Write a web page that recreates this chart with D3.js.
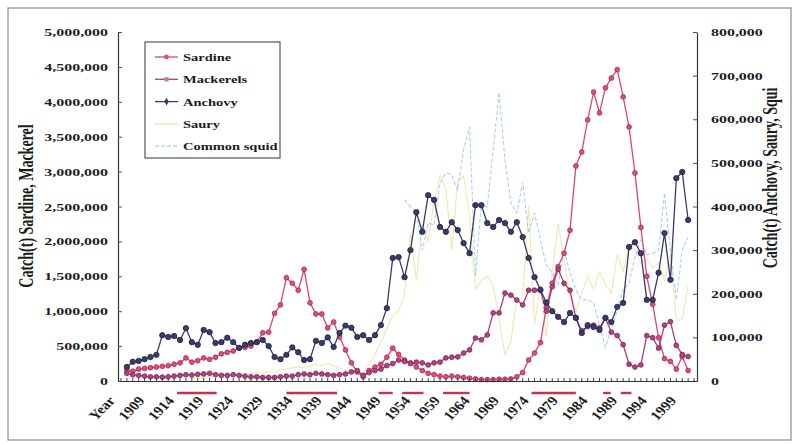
<!DOCTYPE html>
<html><head><meta charset="utf-8">
<script src="https://cdn.jsdelivr.net/npm/d3@7"></script>
<style>
html,body{margin:0;padding:0;background:#fff;}
svg{display:block;}
text{font-family:"Liberation Serif","Times New Roman",serif;font-weight:bold;fill:#1c1c1c;}
</style></head><body>
<svg id="chart" width="794" height="444"></svg>
<script>
// Category axis: a "Year" header cell followed by one category per year
const firstYear = 1905, lastYear = 2001;
const categories = ["Year"].concat(d3.range(firstYear, lastYear + 1).map(String));
const xLabels = ["Year","1909","1914","1919","1924","1929","1934","1939","1944","1949",
  "1954","1959","1964","1969","1974","1979","1984","1989","1994","1999"];
const leftTicks = [0,500000,1000000,1500000,2000000,2500000,3000000,3500000,4000000,4500000,5000000];
const rightTicks = [0,100000,200000,300000,400000,500000,600000,700000,800000];

// Catch (t), 1905-2000
const sardine = [150000,140000,170000,180000,190000,200000,210000,220000,240000,260000,
  330000,270000,290000,330000,310000,340000,390000,410000,430000,470000,
  480000,500000,560000,690000,700000,970000,1090000,1480000,1400000,1300000,
  1600000,1120000,960000,960000,760000,845000,630000,445000,260000,130000,
  60000,150000,200000,240000,340000,470000,380000,300000,260000,200000,
  150000,110000,90000,70000,60000,70000,60000,50000,40000,30000,
  20000,20000,20000,25000,25000,30000,60000,120000,300000,400000,
  550000,1050000,1400000,1640000,1830000,2160000,3080000,3280000,3740000,4140000,
  3840000,4200000,4340000,4460000,4070000,3640000,2980000,2200000,1500000,1100000,
  620000,320000,280000,170000,350000,150000];
const mackerels = [110000,90000,80000,70000,60000,60000,55000,60000,70000,80000,
  90000,85000,95000,100000,110000,90000,80000,80000,90000,80000,
  70000,60000,60000,50000,50000,50000,60000,70000,70000,90000,
  100000,90000,110000,100000,90000,80000,90000,100000,130000,150000,
  80000,120000,150000,170000,220000,250000,300000,280000,250000,270000,
  260000,230000,260000,270000,330000,340000,345000,400000,445000,615000,
  590000,660000,975000,975000,1260000,1230000,1160000,1090000,1300000,1300000,
  1300000,1000000,1350000,1600000,1400000,1300000,900000,720000,780000,800000,
  760000,900000,700000,650000,520000,240000,200000,230000,650000,620000,
  470000,800000,850000,510000,380000,350000];
const anchovy = [32000,44000,46000,50000,55000,60000,105000,101000,103000,94000,
  121000,89000,83000,117000,112000,87000,89000,99000,89000,76000,
  83000,87000,89000,94000,80000,55000,50000,60000,77000,66000,
  48000,50000,92000,87000,100000,78000,110000,127000,122000,101000,
  105000,94000,105000,128000,167000,282000,284000,238000,300000,387000,
  342000,426000,415000,353000,342000,364000,346000,316000,293000,403000,
  403000,362000,353000,369000,362000,342000,364000,330000,282000,238000,
  209000,180000,160000,147000,135000,156000,145000,110000,128000,124000,
  117000,145000,135000,170000,179000,307000,318000,293000,186000,186000,
  248000,339000,232000,465000,479000,369000];
const saury = [10000,8000,12000,15000,10000,8000,6000,8000,10000,12000,
  10000,8000,6000,8000,10000,12000,10000,8000,10000,12000,
  15000,18000,20000,18000,22000,20000,25000,28000,30000,32000,
  30000,35000,38000,36000,40000,35000,30000,25000,20000,15000,
  20000,40000,60000,90000,120000,150000,160000,200000,340000,230000,
  360000,320000,410000,470000,440000,300000,460000,470000,380000,210000,
  230000,240000,220000,140000,60000,90000,190000,190000,400000,130000,
  220000,100000,250000,360000,280000,190000,160000,200000,240000,210000,
  250000,220000,200000,290000,250000,310000,300000,270000,280000,260000,
  270000,230000,290000,140000,140000,220000];
// Common squid is recorded from 1952 onwards
const squidStart = 1952;
const commonSquid = [415000,399000,387000,300000,362000,358000,454000,477000,472000,438000,
  530000,582000,240000,408000,399000,530000,662000,506000,408000,385000,
  454000,339000,385000,323000,266000,248000,220000,300000,248000,209000,
  186000,186000,179000,128000,78000,117000,163000,209000,225000,284000,
  323000,289000,293000,300000,431000,300000,186000,300000,330000];

// Periods marked beneath the year axis
const periods = [[1913.5,1920.2],[1932,1940.6],[1947.6,1950],[1951.6,1955.2],[1958.5,1963],
  [1973.5,1981],[1985.6,1986.9],[1988.6,1990.4]];

const svg = d3.select("#chart");
const L = 118, R = 697, T = 32, B = 381;
const SX = 1.45; // horizontal glyph stretch

const x = d3.scaleBand().domain(categories).range([L, R]).padding(0);
const cx = c => x(c) + x.bandwidth() / 2;
const yL = d3.scaleLinear().domain([0, 5000000]).range([B, T]);
const yR = d3.scaleLinear().domain([0, 800000]).range([B, T]);
const yearX = d3.scaleLinear().domain([firstYear, lastYear]).range([cx(String(firstYear)), cx(String(lastYear))]);

// outer frame
svg.append("rect").attr("x", 8).attr("y", 8).attr("width", 783).attr("height", 432)
  .attr("fill", "none").attr("stroke", "#8c8c8c").attr("stroke-width", 1.2);

function seriesPoints(values, start) {
  return values.map((v, i) => ({cat: String(start + i), v}));
}

function drawSeries(values, start, yScale, opt) {
  const pts = seriesPoints(values, start);
  const line = d3.line().x(d => cx(d.cat)).y(d => yScale(d.v));
  svg.append("path").datum(pts).attr("d", line).attr("fill", "none")
    .attr("stroke", opt.color).attr("stroke-width", opt.width)
    .attr("stroke-dasharray", opt.dash || null).attr("opacity", opt.opacity || 1);
  if (opt.marker) {
    svg.append("g").selectAll("circle").data(pts).join("circle")
      .attr("cx", d => cx(d.cat)).attr("cy", d => yScale(d.v)).attr("r", opt.r)
      .attr("fill", opt.marker).attr("stroke", opt.markerStroke).attr("stroke-width", 0.8);
  }
}

drawSeries(saury, firstYear, yR, {color: "#f1dfa0", width: 1.1, opacity: 0.8});
drawSeries(commonSquid, squidStart, yR, {color: "#a9d2ea", width: 1.1, dash: "4,2"});
drawSeries(sardine, firstYear, yL, {color: "#d9476f", width: 1.3, marker: "#dc4f78", markerStroke: "#a3284f", r: 2.4});
drawSeries(mackerels, firstYear, yL, {color: "#ad3c78", width: 1.3, marker: "#b0447d", markerStroke: "#7c2356", r: 2.4});
drawSeries(anchovy, firstYear, yR, {color: "#3a3a6c", width: 1.3, marker: "#3b3b6b", markerStroke: "#202044", r: 2.7});

// left axis
const gl = svg.append("g").attr("transform", `translate(${L},0)`)
  .call(d3.axisLeft(yL).tickValues(leftTicks).tickSizeInner(-4).tickSizeOuter(0).tickPadding(0).tickFormat(d3.format(",")));
// right axis
const gr = svg.append("g").attr("transform", `translate(${R},0)`)
  .call(d3.axisRight(yR).tickValues(rightTicks).tickSizeInner(-4).tickSizeOuter(0).tickPadding(0).tickFormat(d3.format(",")));
[gl, gr].forEach(g => {
  g.select(".domain").attr("stroke", "#333").attr("stroke-width", 1.2);
  g.selectAll(".tick line").attr("stroke", "#555");
  g.selectAll("text").style("font-size", "11px").attr("fill", "#1c1c1c");
});
gl.selectAll("text").attr("x", -10 / SX).attr("transform", `scale(${SX},1)`);
gr.selectAll("text").attr("x", 14 / SX).attr("transform", `scale(${SX},1)`);

// category axis with a tick per year
const gx = svg.append("g").attr("transform", `translate(0,${B})`)
  .call(d3.axisBottom(x).tickSizeInner(-3).tickSizeOuter(0).tickFormat(""));
gx.select(".domain").attr("stroke", "#333").attr("stroke-width", 1.2);
gx.selectAll(".tick line").attr("stroke", "#444");

svg.append("g").selectAll("text").data(xLabels).join("text")
  .attr("text-anchor", "end").style("font-size", "13px")
  .attr("transform", d => `translate(${cx(d) - 5},${B + 20}) scale(1.2,1) rotate(-50)`)
  .text(d => d);

// marked periods
svg.append("g").selectAll("line").data(periods).join("line")
  .attr("x1", d => yearX(d[0])).attr("x2", d => yearX(d[1]))
  .attr("y1", B + 12).attr("y2", B + 12)
  .attr("stroke", "#c8324f").attr("stroke-width", 2.4);

// axis titles
svg.append("text").attr("text-anchor", "middle").style("font-size", "14px")
  .attr("transform", `translate(33,206) scale(${SX},1) rotate(-90)`)
  .text("Catch(t) Sardine, Mackerel");
svg.append("text").attr("text-anchor", "middle").style("font-size", "14px")
  .attr("transform", `translate(777,178) scale(${SX},1) rotate(-90)`)
  .text("Catch(t) Anchovy, Saury, Squi");

// legend
const legendItems = [
  {name: "Sardine", color: "#d9476f", marker: "#dc4f78", shape: "circle"},
  {name: "Mackerels", color: "#ad3c78", marker: "#a88a9c", shape: "square"},
  {name: "Anchovy", color: "#3a3a6c", marker: "#3b3b6b", shape: "diamond"},
  {name: "Saury", color: "#f1dfa0", marker: null},
  {name: "Common squid", color: "#a9d2ea", marker: null, dash: "4,2"}
];
const lg = svg.append("g");
lg.append("rect").attr("x", 145).attr("y", 42).attr("width", 135).attr("height", 116)
  .attr("fill", "#fff").attr("stroke", "#333").attr("stroke-width", 1);
const li = lg.selectAll("g.item").data(legendItems).join("g").attr("class", "item")
  .attr("transform", (d, i) => `translate(0,${57 + i * 22.3})`);
li.append("line").attr("x1", 155).attr("x2", 178).attr("stroke", d => d.color)
  .attr("stroke-width", 1.3).attr("stroke-dasharray", d => d.dash || null);
li.filter(d => d.marker).append("path")
  .attr("d", d => d3.symbol().type(d.shape === "circle" ? d3.symbolCircle : d.shape === "square" ? d3.symbolSquare : d3.symbolDiamond).size(18)())
  .attr("transform", "translate(166.5,0)").attr("fill", d => d.marker);
li.append("text").attr("x", 183 / SX).attr("y", 4).attr("transform", `scale(${SX},1)`)
  .style("font-size", "10px").text(d => d.name);
</script>
</body></html>
